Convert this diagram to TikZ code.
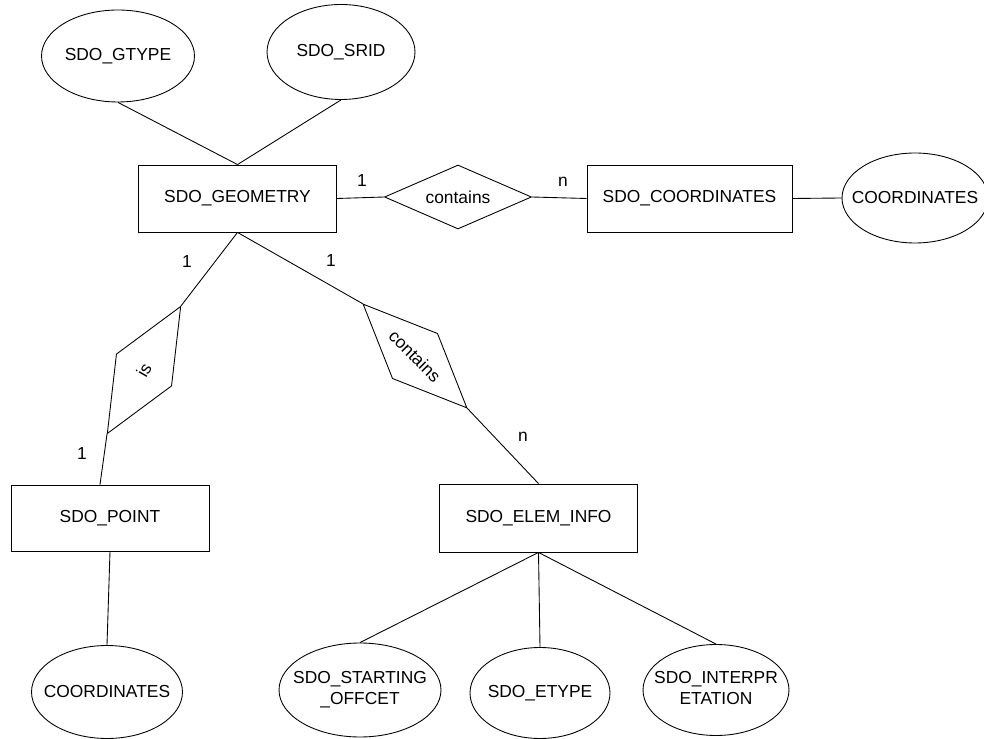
\documentclass[tikz,border=0pt]{standalone}
\usepackage{fontspec}
\setmainfont{Liberation Sans}
\usetikzlibrary{shapes.geometric}
\newcommand{\ctext}[1]{\makebox[0pt]{#1}}
\tikzset{
    base/.style = {align=center, draw=black, line width=0.5pt, font=\fontsize{9.9}{12}\selectfont},
    entity/.style = {base, rectangle, minimum width=3.96cm, minimum height=1.34cm},
    attr/.style 2 args = {base, ellipse, inner sep=0pt, minimum width=#1, minimum height=#2},
    rel/.style = {base, diamond, inner sep=0pt, minimum width=2.94cm, minimum height=1.28cm},
    card/.style = {inner sep=0pt, font=\fontsize{9.9}{12}\selectfont},
    link/.style = {line width=0.5pt}
}

\begin{document}
\begin{tikzpicture}[x=0.02cm, y=-0.02cm]
    \useasboundingbox (0,0) rectangle (984,739);

    % entities
    \node [entity] (geom) at (237.5,198.5) {SDO\_GEOMETRY};
    \node [entity, minimum width=4.1cm] (coords) at (689.5,198.5) {SDO\_COORDINATES};
    \node [entity, minimum height=1.32cm] (point) at (110,518) {SDO\_POINT};
    \node [entity, minimum height=1.36cm] (elem) at (538.5,518) {SDO\_ELEM\_INFO};

    % relations
    \node [rel] (has) at (458,197) {\ctext{contains}};
    \node [rel, rotate=60] (is) at (144,370) {\ctext{is}};
    \node [rel, rotate=-45] (holds) at (415,356) {\ctext{contains}};

    % attributes
    \node [attr={3.06cm}{1.84cm}] (gtype) at (118,56) {\ctext{SDO\_GTYPE}};
    \node [attr={2.96cm}{1.9cm}] (srid) at (341,52) {\ctext{SDO\_SRID}};
    \node [attr={2.92cm}{1.8cm}] (rcoords) at (915,198) {\ctext{COORDINATES}};
    \node [attr={3.02cm}{1.86cm}] (pcoords) at (107,692) {\ctext{COORDINATES}};
    \node [attr={3.24cm}{1.88cm}] (start) at (360,690)
        {\ctext{\begin{tabular}{@{}c@{}}SDO\_STARTING\\\_OFFCET\end{tabular}}};
    \node [attr={2.8cm}{1.82cm}] (etype) at (540,693) {\ctext{SDO\_ETYPE}};
    \node [attr={2.92cm}{1.82cm}] (interp) at (716,690)
        {\ctext{\begin{tabular}{@{}c@{}}SDO\_INTERPR\\ETATION\end{tabular}}};

    % connectors
    \draw [link] (gtype.south) -- (geom.north);
    \draw [link] (srid.south) -- (geom.north);
    \draw [link] (geom.east) -- (has.west);
    \draw [link] (has.east) -- (coords.west);
    \draw [link] (coords.east) -- (rcoords.west);
    \draw [link] (geom.south) -- (is.east);
    \draw [link] (is.west) -- ([xshift=-0.2cm]point.north);
    \draw [link] (geom.south) -- (holds.west);
    \draw [link] (holds.east) -- (elem.north);
    \draw [link] (point.south) -- (pcoords.north);
    \draw [link] (elem.south) -- (start.north);
    \draw [link] (elem.south) -- (etype.north);
    \draw [link] (elem.south) -- (interp.north);

    % cardinalities
    \node [card] (c1) at (362,181) {1};
    \node [card] (c2) at (563,182) {n};
    \node [card] (c3) at (187,262) {1};
    \node [card] (c4) at (331,261) {1};
    \node [card] (c5) at (523,437) {n};
    \node [card] (c6) at (82,454) {1};
\end{tikzpicture}
\end{document}
